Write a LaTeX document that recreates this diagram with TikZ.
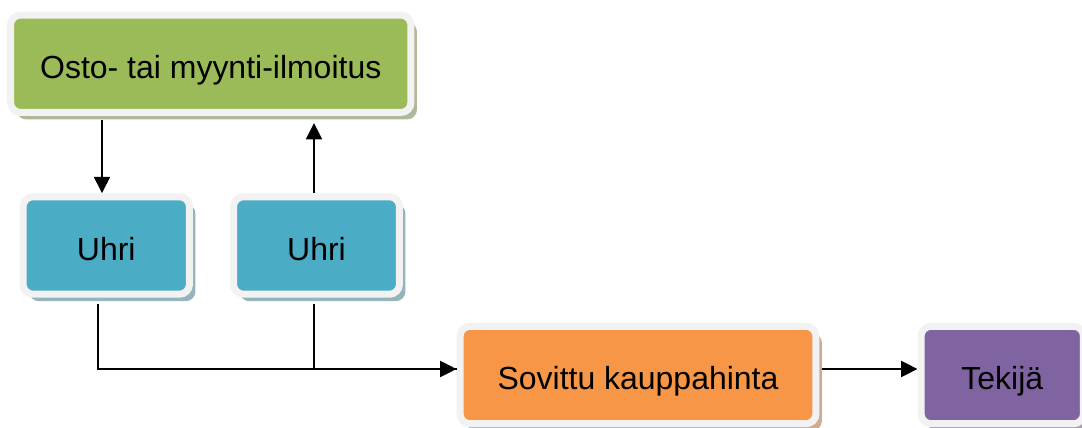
\documentclass[tikz,border=0pt]{standalone}
\usepackage{fontspec}
\setmainfont{Liberation Sans}
\usetikzlibrary{arrows.meta,shadows}
\definecolor{rim}{HTML}{F2F2F2}
\definecolor{adgreen}{HTML}{9BBB59}
\definecolor{victim}{HTML}{4BACC6}
\definecolor{price}{HTML}{F79646}
\definecolor{actor}{HTML}{8064A2}
\begin{document}
\begin{tikzpicture}[x=0.02cm,y=-0.02cm,
    box/.style={draw=rim,line width=0.14cm,rounded corners=0.2cm,
      minimum height=1.95cm,inner sep=0pt,text=black,
      text height=0.7cm,text depth=0.1cm,
      font=\fontsize{18.2}{22}\selectfont},
    shade/.style={drop shadow={shadow xshift=0.12cm,shadow yshift=-0.14cm,
      fill=#1!45!gray!70!white,opacity=1}},
    arr/.style={line width=0.04cm,-{Triangle[length=0.33cm,width=0.32cm]}},
    link/.style={line width=0.04cm}]
  \useasboundingbox (0,0) rectangle (1082,428);
  \node[box,shade=adgreen,fill=adgreen,minimum width=8.01cm] (ad) at (210.75,63.75) {Osto- tai myynti-ilmoitus};
  \node[box,shade=victim,fill=victim,minimum width=3.33cm] (u1) at (106.25,245.5) {Uhri};
  \node[box,shade=victim,fill=victim,minimum width=3.32cm] (u2) at (316.5,245.5) {Uhri};
  \node[box,shade=price,fill=price,minimum width=7.12cm] (deal) at (638,375) {Sovittu kauppahinta};
  \node[box,shade=actor,fill=actor,minimum width=3.25cm] (actor) at (1002.25,375) {Tekijä};
  \coordinate (in) at ([yshift=0.12cm]deal.west);
  \coordinate (d1) at ([xshift=-0.085cm]u1.north);
  \coordinate (d2) at ([xshift=-0.05cm]u2.north);
  \draw[arr,shorten <=0.08cm] (ad.south -| d1) -- (d1);
  \draw[arr,shorten >=0.14cm] (d2) -- (ad.south -| d2);
  \draw[arr,shorten <=0.12cm] ([xshift=-0.165cm]u1.south) |- (in);
  \draw[link,shorten <=0.12cm] ([xshift=-0.05cm]u2.south) |- (in);
  \draw[arr,shorten <=0.05cm] (deal.east |- in) -- (actor.west |- in);
\end{tikzpicture}
\end{document}
